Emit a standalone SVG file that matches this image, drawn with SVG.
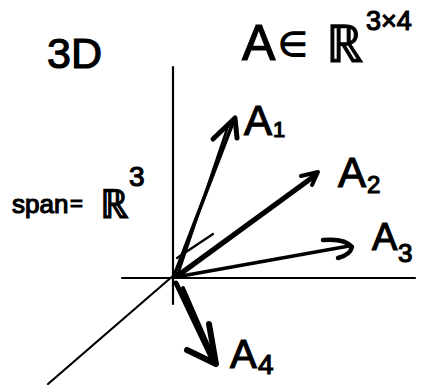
<svg xmlns="http://www.w3.org/2000/svg" width="426" height="385" viewBox="0 0 426 385">
<style>
.ax{stroke:#000;stroke-width:2.2;fill:none;stroke-linecap:round}
.v{stroke:#000;fill:none;stroke-linecap:round;stroke-linejoin:round}
.t{font-family:"Liberation Sans",Arial,sans-serif;fill:#000;stroke:#000;stroke-width:1.2}
</style>
<rect width="426" height="385" fill="#fff"/>
<g id="axes">
<line class="ax" x1="173" y1="67" x2="173" y2="304"/>
<line class="ax" x1="122" y1="278" x2="415" y2="278"/>
<line class="ax" x1="48" y1="384" x2="174" y2="275"/>
<line class="ax" x1="177" y1="258" x2="213" y2="234"/>
</g>
<g id="connectors">
<g id="A1-vec">
<path class="v" stroke-width="3.5" d="M174 276 L234 120"/>
<path class="v" stroke-width="2.5" d="M178 274 L228 126"/>
<path class="v" stroke-width="5" d="M213 139 L235 118 L237 138"/>
</g>
<g id="A2-vec">
<path class="v" stroke-width="4" d="M176 276 L316 174"/>
<path class="v" stroke-width="3" d="M182 274 L312 179"/>
<path class="v" stroke-width="4" d="M301 176 L318 172 L312 185"/>
</g>
<g id="A3-vec">
<path class="v" stroke-width="3.5" d="M176 277 L349 246"/>
<path class="v" stroke-width="4.5" d="M323 240 Q345 238 352 247 Q350 255 338 258"/>
</g>
<g id="A4-vec">
<path class="v" stroke-width="5" d="M176 283 L214 363"/>
<path class="v" stroke-width="4" d="M183 288 L210 350"/>
<path class="v" stroke-width="6" d="M187 350 L216 364 L209 324"/>
</g>
</g>
<g id="title-3D"><text class="t" x="47" y="68" font-size="42" textLength="55" lengthAdjust="spacingAndGlyphs">3D</text></g>
<g id="title-A">
<text class="t" x="242" y="60" font-size="50">A<tspan x="278" y="56" font-size="34">∈</tspan><tspan x="326" y="62" font-size="52">ℝ</tspan><tspan x="366" y="30" font-size="27">3×4</tspan></text>
</g>
<g id="span-label">
<text class="t" x="12" y="213" font-size="26">span<tspan x="70" y="211" font-size="22">=</tspan><tspan x="100" y="218" font-size="40">ℝ</tspan><tspan x="129" y="186" font-size="28">3</tspan></text>
</g>
<g id="A1-label">
<text class="t" x="244" y="135" font-size="42">A<tspan x="273" y="137" font-size="22">1</tspan></text>
</g>
<g id="A2-label">
<text class="t" x="338" y="187" font-size="42">A<tspan x="367" y="193" font-size="24">2</tspan></text>
</g>
<g id="A3-label">
<text class="t" x="372" y="250" font-size="38">A<tspan x="398" y="262" font-size="26">3</tspan></text>
</g>
<g id="A4-label">
<text class="t" x="230" y="368" font-size="40">A<tspan x="258" y="374" font-size="28">4</tspan></text>
</g>
</svg>
